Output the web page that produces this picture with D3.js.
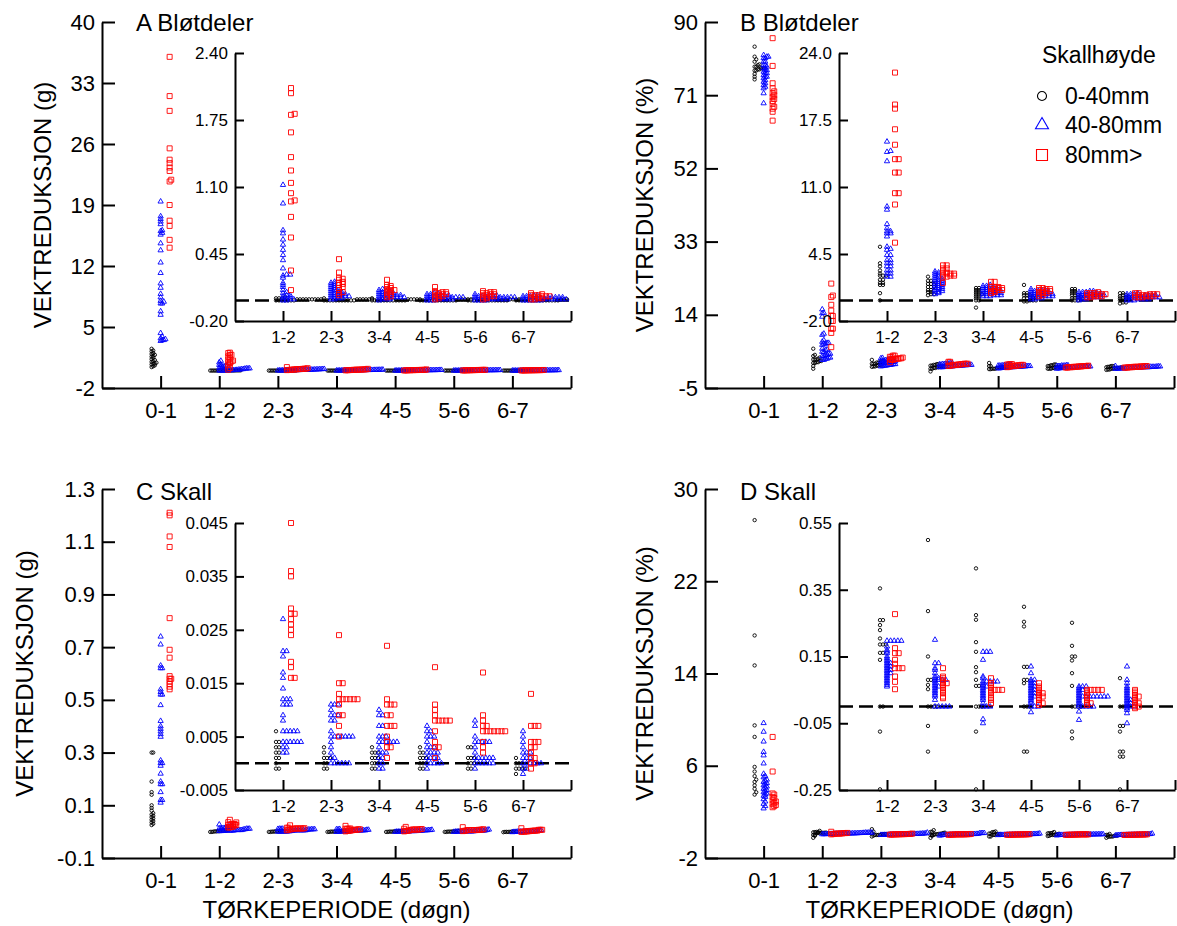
<!DOCTYPE html>
<html><head><meta charset="utf-8">
<script src="https://cdn.jsdelivr.net/npm/d3@7"></script>
<style>
body{margin:0;background:#fff}
svg{display:block}
text{font-family:Arial,"Liberation Sans",sans-serif;fill:#000}
</style>
</head><body>
<svg id="chart" width="1177" height="926"></svg>
<script>
// ---------- categories / labels ----------
const periods = ["0-1","1-2","2-3","3-4","4-5","5-6","6-7"];
const sizeClasses = ["0-40mm","40-80mm","80mm>"];
const legendTitle = "Skallhøyde";
const xAxisTitle = "TØRKEPERIODE (døgn)";

// ---------- tick labels ----------
const ticksA = [-2,5,12,19,26,33,40];
const insetTicksA = [-0.20,0.45,1.10,1.75,2.40];
const ticksB = [-5,14,33,52,71,90];
const insetTicksB = [-2.0,4.5,11.0,17.5,24.0];
const ticksC = [-0.1,0.1,0.3,0.5,0.7,0.9,1.1,1.3];
const insetTicksC = [-0.005,0.005,0.015,0.025,0.035,0.045];
const ticksD = [-2,6,14,22,30];
const insetTicksD = [-0.25,-0.05,0.15,0.35,0.55];

// ---------- A: soft tissue, weight loss (g); one sub-array per period ----------
const softG_0_40 = [
 [2.5,2.3,2.2,2.0,1.9,1.8,1.7,1.6,1.5,1.3,1.2,1.1,1.0,0.9,0.8,0.8,0.7,0.6,0.5,0.4],
 [0.03,0.02,0.02,0.02,0.01,0.01,0.01,0.01,0.01,0.01,0.01,0.01,0.01,0.0,0.0,0.0,0.0,0.0,0.0,0.0],
 [0.02,0.01,0.01,0.01,0.01,0.01,0.01,0.0,0.0,0.0,0.0,0.0,0.0,0.0,0.0,0.0,0.0,0.0],
 [0.02,0.01,0.01,0.01,0.01,0.01,0.0,0.0,0.0,0.0,0.0,0.0,0.0,0.0,0.0,0.0,0.0,0.0],
 [0.01,0.01,0.01,0.01,0.01,0.0,0.0,0.0,0.0,0.0,0.0,0.0,0.0,0.0,0.0,0.0,0.0,0.0],
 [0.01,0.01,0.01,0.01,0.0,0.0,0.0,0.0,0.0,0.0,0.0,0.0,0.0,0.0,0.0,0.0,0.0,0.0],
 [0.01,0.01,0.01,0.0,0.0,0.0,0.0,0.0,0.0,0.0,0.0,0.0,0.0,0.0,0.0,0.0,0.0,0.0]
];
const softG_40_80 = [
 [19.4,17.7,17.4,17.1,16.8,16.1,16.0,15.8,15.6,14.6,13.8,12.4,11.2,10.0,9.5,8.8,8.4,8.0,7.9,7.7,7.7,6.8,6.4,4.3,3.9,3.7,3.6,3.5,3.5,3.4],
 [1.12,0.94,0.68,0.65,0.59,0.54,0.49,0.44,0.39,0.31,0.25,0.25,0.24,0.22,0.17,0.15,0.13,0.10,0.08,0.07,0.05,0.05,0.04,0.03,0.02,0.02,0.01,0.01,0.0,0.0],
 [0.18,0.17,0.16,0.15,0.14,0.13,0.12,0.11,0.10,0.10,0.09,0.08,0.08,0.07,0.07,0.06,0.06,0.05,0.05,0.05,0.04,0.04,0.04,0.03,0.03,0.03,0.02,0.02,0.01,0.01],
 [0.11,0.10,0.09,0.09,0.08,0.08,0.07,0.07,0.06,0.06,0.06,0.05,0.05,0.05,0.04,0.04,0.04,0.04,0.03,0.03,0.03,0.03,0.02,0.02,0.02,0.02,0.01,0.01,0.01,0.0],
 [0.07,0.07,0.06,0.06,0.05,0.05,0.05,0.04,0.04,0.04,0.04,0.03,0.03,0.03,0.03,0.03,0.02,0.02,0.02,0.02,0.02,0.02,0.01,0.01,0.01,0.01,0.01,0.0,0.0,0.0],
 [0.06,0.05,0.05,0.05,0.04,0.04,0.04,0.04,0.03,0.03,0.03,0.03,0.03,0.02,0.02,0.02,0.02,0.02,0.02,0.02,0.01,0.01,0.01,0.01,0.01,0.01,0.0,0.0,0.0,0.0],
 [0.05,0.05,0.04,0.04,0.04,0.03,0.03,0.03,0.03,0.03,0.02,0.02,0.02,0.02,0.02,0.02,0.02,0.01,0.01,0.01,0.01,0.01,0.01,0.01,0.0,0.0,0.0,0.0,0.0,0.0]
];
const softG_80 = [
 [36.0,31.5,29.8,25.5,24.2,23.8,23.3,22.9,21.9,21.7,19.0,17.2,16.6,15.0,14.1],
 [2.06,2.01,1.81,1.80,1.63,1.39,1.26,1.14,1.04,0.97,0.96,0.81,0.61,0.29,0.10],
 [0.40,0.27,0.22,0.21,0.20,0.18,0.17,0.16,0.15,0.13,0.12,0.10,0.08,0.07,0.05],
 [0.20,0.15,0.14,0.13,0.12,0.11,0.10,0.10,0.09,0.08,0.07,0.06,0.05,0.04,0.03],
 [0.13,0.09,0.08,0.08,0.07,0.07,0.06,0.06,0.05,0.05,0.04,0.04,0.03,0.02,0.01],
 [0.09,0.08,0.08,0.07,0.07,0.06,0.06,0.05,0.05,0.04,0.04,0.03,0.03,0.02,0.01],
 [0.07,0.06,0.05,0.05,0.05,0.04,0.04,0.04,0.03,0.03,0.03,0.02,0.02,0.01,0.01]
];

// ---------- B: soft tissue, weight loss (%) ----------
const softPct_0_40 = [
 [83.6,81.0,80.3,79.7,79.0,78.8,78.4,78.4,78.0,78.0,78.0,77.7,77.7,77.4,77.4,76.5,75.8,75.1],
 [5.2,3.6,3.3,2.9,2.6,2.4,2.4,2.4,2.0,2.0,1.7,1.7,1.5,1.5,0.7,0.0],
 [2.3,1.9,1.9,1.6,1.6,1.6,1.3,1.3,1.3,1.0,1.0,0.8,0.8,0.6,0.6,0.5],
 [1.2,1.2,1.0,1.0,0.8,0.8,0.6,0.6,0.6,0.4,0.4,0.2,0.2,0.0,0.0,-0.7],
 [1.5,0.7,0.7,0.5,0.5,0.5,0.3,0.3,0.3,0.2,0.2,0.0,0.0,0.0,-0.1,-0.1],
 [1.1,1.1,0.9,0.9,0.7,0.7,0.5,0.5,0.5,0.3,0.3,0.2,0.2,0.0,0.0,0.0],
 [0.7,0.7,0.5,0.5,0.4,0.3,0.3,0.2,0.2,0.1,0.1,0.0,0.0,-0.2,-0.2,-0.3]
];
const softPct_40_80 = [
 [81.4,81.0,81.0,80.6,80.6,79.7,79.7,78.8,78.8,78.4,78.0,78.0,77.5,77.5,77.1,76.7,76.7,76.2,75.8,75.8,75.4,74.9,74.5,74.1,73.6,73.2,72.8,71.5,68.9],
 [15.4,14.5,14.4,13.5,9.1,8.8,7.4,7.0,6.7,6.7,6.5,6.5,6.2,5.2,5.0,4.9,4.4,4.4,3.9,3.9,3.6,3.6,3.3,3.3,2.9,2.9,2.6,2.6,2.3,2.3],
 [2.8,2.7,2.6,2.5,2.4,2.3,2.2,2.1,2.0,2.0,1.9,1.8,1.8,1.7,1.6,1.6,1.5,1.4,1.4,1.3,1.2,1.2,1.1,1.0,1.0,0.9,0.8,0.8,0.7,0.6],
 [1.5,1.4,1.4,1.3,1.3,1.2,1.2,1.1,1.1,1.0,1.0,1.0,0.9,0.9,0.9,0.8,0.8,0.8,0.7,0.7,0.7,0.6,0.6,0.6,0.5,0.5,0.5,0.4,0.4,0.4],
 [1.1,1.0,1.0,0.9,0.9,0.9,0.8,0.8,0.8,0.7,0.7,0.7,0.6,0.6,0.6,0.5,0.5,0.5,0.5,0.4,0.4,0.4,0.4,0.3,0.3,0.3,0.2,0.2,0.1,0.1],
 [0.9,0.9,0.8,0.8,0.8,0.7,0.7,0.7,0.6,0.6,0.6,0.6,0.5,0.5,0.5,0.5,0.4,0.4,0.4,0.4,0.3,0.3,0.3,0.3,0.2,0.2,0.2,0.1,0.1,0.0],
 [0.7,0.6,0.6,0.6,0.5,0.5,0.5,0.5,0.4,0.4,0.4,0.4,0.4,0.3,0.3,0.3,0.3,0.3,0.2,0.2,0.2,0.2,0.2,0.1,0.1,0.1,0.1,0.0,0.0,0.0]
];
const softPct_80 = [
 [85.8,78.6,74.1,72.8,72.0,71.5,71.0,70.5,70.0,69.5,68.8,68.0,67.5,66.7,64.4],
 [22.1,19.0,18.6,16.6,15.1,13.7,13.7,12.4,12.4,10.4,10.4,9.3,5.6],
 [3.4,3.4,3.1,3.1,2.9,2.7,2.7,2.6,2.6,2.6,2.5,2.4,2.4,2.3,2.3,1.7],
 [1.8,1.8,1.3,1.3,1.3,1.2,1.2,1.1,1.1,1.0,1.0,0.9,0.9,0.8,0.7],
 [1.2,1.2,1.1,1.1,1.0,1.0,0.9,0.9,0.8,0.8,0.7,0.7,0.6,0.5,0.4],
 [0.8,0.7,0.7,0.7,0.6,0.6,0.6,0.5,0.5,0.5,0.4,0.4,0.4,0.3,0.3],
 [0.7,0.7,0.6,0.6,0.6,0.5,0.5,0.5,0.5,0.4,0.4,0.4,0.3,0.3,0.3]
];

// ---------- C: shell, weight loss (g) ----------
const shellG_0_40 = [
 [0.30,0.30,0.19,0.15,0.14,0.10,0.09,0.08,0.07,0.065,0.06,0.055,0.05,0.045,0.04,0.035,0.03,0.025],
 [0.006,0.004,0.004,0.003,0.003,0.002,0.002,0.001,0.001,0.0,-0.001,-0.001],
 [0.003,0.002,0.001,0.001,0.001,0.0,0.0,-0.001,-0.001],
 [0.003,0.002,0.002,0.002,0.001,0.001,0.001,0.0,0.0,0.0,-0.001,-0.001],
 [0.003,0.002,0.002,0.001,0.001,0.001,0.0,0.0,0.0,-0.001,-0.001],
 [0.003,0.003,0.001,0.001,0.001,0.0,0.0,0.0,-0.001,-0.001],
 [0.001,0.0,0.0,0.0,-0.001,-0.001,-0.001,-0.001,-0.002]
];
const shellG_40_80 = [
 [0.74,0.71,0.63,0.62,0.62,0.54,0.53,0.52,0.52,0.48,0.42,0.40,0.39,0.38,0.37,0.36,0.27,0.26,0.26,0.25,0.22,0.19,0.18,0.18,0.15,0.12,0.12,0.11],
 [0.027,0.021,0.021,0.020,0.017,0.016,0.014,0.012,0.012,0.012,0.011,0.011,0.011,0.009,0.008,0.006,0.006,0.006,0.006,0.006,0.004,0.004,0.004,0.004,0.004,0.004,0.003,0.003,0.002,0.002],
 [0.011,0.011,0.011,0.010,0.009,0.009,0.009,0.008,0.008,0.006,0.005,0.005,0.005,0.005,0.005,0.005,0.005,0.004,0.003,0.002,0.001,0.001,0.0,0.0,0.0,0.0,0.0,0.0],
 [0.010,0.009,0.009,0.007,0.007,0.005,0.005,0.005,0.004,0.004,0.004,0.004,0.004,0.004,0.003,0.002,0.002,0.002,0.001,0.001,0.0,0.0,-0.001,-0.001],
 [0.007,0.006,0.006,0.005,0.005,0.005,0.004,0.003,0.003,0.003,0.002,0.002,0.002,0.002,0.001,0.001,0.001,0.001,0.0,0.0,0.0,0.0,0.0,-0.001],
 [0.008,0.007,0.005,0.004,0.004,0.004,0.004,0.004,0.003,0.002,0.001,0.001,0.001,0.001,0.001,0.001,0.0,0.0,0.0,0.0,0.0,0.0,-0.001],
 [0.006,0.005,0.004,0.003,0.002,0.002,0.002,0.001,0.001,0.001,0.0,0.0,0.0,0.0,0.0,0.0,-0.001,-0.001,-0.002]
];
const shellG_80 = [
 [1.21,1.20,1.12,1.08,0.81,0.69,0.66,0.59,0.58,0.58,0.57,0.56,0.55,0.54],
 [0.045,0.036,0.035,0.029,0.028,0.028,0.027,0.026,0.025,0.024,0.019,0.018,0.016,0.016],
 [0.024,0.015,0.015,0.013,0.012,0.012,0.012,0.012,0.012,0.012,0.011,0.009,0.009,0.007,0.005],
 [0.022,0.012,0.011,0.011,0.011,0.009,0.009,0.007,0.007,0.007,0.005,0.004,0.003,0.003,0.001],
 [0.018,0.011,0.010,0.009,0.008,0.008,0.008,0.008,0.008,0.006,0.004,0.003,0.003,0.001],
 [0.017,0.009,0.008,0.007,0.007,0.006,0.006,0.006,0.006,0.006,0.006,0.006,0.004,0.003,0.002],
 [0.013,0.007,0.007,0.007,0.004,0.004,0.004,0.003,0.003,0.002,0.001,0.001,0.0,0.0,-0.001]
];

// ---------- D: shell, weight loss (%) ----------
const shellPct_0_40 = [
 [27.3,17.3,14.7,9.5,8.5,5.9,5.5,5.1,4.8,4.6,4.3,4.0,3.7,3.5],
 [0.354,0.259,0.259,0.244,0.229,0.204,0.186,0.186,0.186,0.161,0.161,0.14,0.0,0.0,-0.075,-0.248],
 [0.499,0.286,0.15,0.08,0.08,0.065,0.052,0.0,0.0,0.0,0.0,-0.058,-0.135],
 [0.414,0.274,0.26,0.193,0.164,0.118,0.103,0.08,0.062,0.062,0.0,0.0,0.0,-0.075,-0.248],
 [0.299,0.254,0.24,0.119,0.119,0.08,0.08,0.07,0.0,0.0,0.0,-0.135,-0.135],
 [0.251,0.182,0.15,0.15,0.138,0.1,0.062,0.0,0.0,0.0,0.0,-0.075,-0.095],
 [0.085,0.0,0.0,-0.058,-0.058,-0.075,-0.135,-0.135,-0.15,-0.15,-0.248]
];
const shellPct_40_80 = [
 [9.7,8.95,8.1,7.2,6.9,6.2,5.3,5.1,5.0,4.8,4.7,4.6,4.5,4.4,4.3,4.2,4.1,4.0,3.9,3.8,3.7,3.6,3.5,3.4,3.3,3.1,2.9,2.7,2.5,2.3],
 [0.197,0.197,0.197,0.197,0.197,0.18,0.17,0.165,0.16,0.15,0.145,0.14,0.135,0.13,0.13,0.125,0.12,0.12,0.115,0.11,0.11,0.105,0.1,0.1,0.095,0.09,0.085,0.08,0.075,0.07,0.065,0.06],
 [0.2,0.13,0.13,0.115,0.11,0.1,0.09,0.085,0.085,0.08,0.08,0.08,0.08,0.075,0.07,0.065,0.06,0.06,0.055,0.05,0.045,0.04,0.035,0.03,0.02,0.0,0.0,0.0,0.0,0.0],
 [0.164,0.164,0.164,0.14,0.09,0.085,0.075,0.075,0.075,0.075,0.075,0.07,0.065,0.06,0.06,0.055,0.05,0.045,0.04,0.035,0.03,0.025,0.02,0.01,0.0,0.0,0.0,-0.038,-0.05],
 [0.12,0.1,0.08,0.08,0.075,0.07,0.07,0.065,0.06,0.06,0.055,0.05,0.05,0.045,0.04,0.04,0.035,0.03,0.03,0.025,0.02,0.015,0.01,0.0,0.0,0.0,-0.017],
 [0.06,0.06,0.06,0.055,0.05,0.05,0.045,0.04,0.035,0.03,0.03,0.03,0.03,0.03,0.03,0.03,0.03,0.03,0.025,0.02,0.015,0.01,0.005,0.0,0.0,0.0,0.0,0.0,-0.015,-0.04],
 [0.12,0.08,0.07,0.06,0.055,0.05,0.045,0.04,0.035,0.03,0.025,0.02,0.02,0.015,0.01,0.01,0.005,0.0,0.0,0.0,-0.005,-0.01,-0.02,-0.05]
];
const shellPct_80 = [
 [8.5,5.5,3.6,3.5,3.3,3.2,3.0,2.9,2.8,2.7,2.6,2.5,2.4],
 [0.277,0.175,0.16,0.16,0.14,0.128,0.115,0.115,0.115,0.09,0.074,0.052],
 [0.115,0.09,0.085,0.08,0.075,0.07,0.07,0.065,0.06,0.055,0.05,0.045,0.04,0.03,0.025],
 [0.085,0.07,0.065,0.06,0.055,0.05,0.05,0.05,0.05,0.045,0.04,0.03,0.025,0.02,0.01],
 [0.07,0.06,0.055,0.05,0.045,0.04,0.04,0.035,0.03,0.03,0.025,0.02,0.01,0.01,0.005],
 [0.05,0.05,0.05,0.05,0.05,0.045,0.04,0.035,0.03,0.025,0.02,0.015,0.01,0.01,0.005],
 [0.05,0.045,0.04,0.035,0.03,0.03,0.025,0.02,0.015,0.01,0.01,0.005,0.0,0.0,-0.005]
];

// ---------- styles ----------
const colors = ["#000000","#0000ff","#ff0000"];
const symbolTypes = [d3.symbolCircle, d3.symbolTriangle, d3.symbolSquare];
const symbolAreas = [9, 12, 25];
const legendAreas = [64, 73, 121];

const fmtInt = v => String(v);
const fmtFix = n => v => v.toFixed(n);

const panels = [
 {title:"A Bløtdeler", yLabel:"VEKTREDUKSJON (g)", data:[softG_0_40, softG_40_80, softG_80],
  titleX:136, titleY:31, yLabelX:51,
  main:{x0:102, x1:571, yTop:22, yBot:388, domain:[-2,40], ticks:ticksA, fmt:fmtInt},
  inset:{x0:235, x1:571, yTop:53, yBot:321, domain:[-0.2,2.4], ticks:insetTicksA, fmt:fmtFix(2)}},
 {title:"B Bløtdeler", yLabel:"VEKTREDUKSJON (%)", data:[softPct_0_40, softPct_40_80, softPct_80],
  titleX:740, titleY:31, yLabelX:653, legend:true,
  main:{x0:705, x1:1174, yTop:22, yBot:388, domain:[-5,90], ticks:ticksB, fmt:fmtInt},
  inset:{x0:839, x1:1175, yTop:53, yBot:321, domain:[-2,24], ticks:insetTicksB, fmt:fmtFix(1)}},
 {title:"C Skall", yLabel:"VEKTREDUKSJON (g)", data:[shellG_0_40, shellG_40_80, shellG_80],
  titleX:136, titleY:500, yLabelX:33, xTitle:true,
  main:{x0:102, x1:571, yTop:489, yBot:858, domain:[-0.1,1.3], ticks:ticksC, fmt:fmtFix(1)},
  inset:{x0:235, x1:571, yTop:523, yBot:790, domain:[-0.005,0.045], ticks:insetTicksC, fmt:fmtFix(3)}},
 {title:"D Skall", yLabel:"VEKTREDUKSJON (%)", data:[shellPct_0_40, shellPct_40_80, shellPct_80],
  titleX:740, titleY:500, yLabelX:653, xTitle:true,
  main:{x0:705, x1:1174, yTop:489, yBot:858, domain:[-2,30], ticks:ticksD, fmt:fmtInt},
  inset:{x0:839, x1:1175, yTop:523, yBot:790, domain:[-0.25,0.55], ticks:insetTicksD, fmt:fmtFix(2)}}
];

const svg = d3.select("#chart");

// dot-density layout: values in the same pixel row are stacked side by side
function dotLayout(values, y, baseX, step, binPx){
  const pts = values.map(v => ({v, y:y(v)})).sort((a,b) => b.y - a.y);
  let rowY = null, k = 0;
  pts.forEach(p => {
    if (rowY === null || Math.abs(p.y - rowY) > binPx){ rowY = p.y; k = 0; } else k++;
    p.x = baseX + k*step;
  });
  return pts;
}

function drawMarks(g, pts, gi){
  const sym = d3.symbol().type(symbolTypes[gi]).size(symbolAreas[gi]);
  g.selectAll(null).data(pts).join("path")
    .attr("d", sym)
    .attr("transform", d => `translate(${d.x},${d.y})`)
    .attr("fill","none").attr("stroke", colors[gi]).attr("stroke-width", 0.9);
}

function styleAxis(g, fontSize){
  g.select(".domain").attr("stroke","#000").attr("stroke-width",2);
  g.selectAll(".tick line").attr("stroke","#000").attr("stroke-width",2);
  g.selectAll(".tick text").attr("font-size",fontSize).attr("fill","#000")
    .attr("font-family","Arial, 'Liberation Sans', sans-serif");
}

panels.forEach(P => {
  const M = P.main, I = P.inset;
  const xm = d3.scaleLinear().domain([0,8]).range([M.x0, M.x1]);
  const ym = d3.scaleLinear().domain(M.domain).range([M.yBot, M.yTop]);
  const xi = d3.scaleLinear().domain([0,7]).range([I.x0, I.x1]);
  const yi = d3.scaleLinear().domain(I.domain).range([I.yBot, I.yTop]);

  // main axes
  const gy = svg.append("g").attr("transform",`translate(${M.x0},0)`)
    .call(d3.axisLeft(ym).tickValues(M.ticks).tickFormat(M.fmt).tickSize(-13).tickSizeOuter(0).tickPadding(7));
  styleAxis(gy, 22);
  const gx = svg.append("g").attr("transform",`translate(0,${M.yBot})`)
    .call(d3.axisBottom(xm).tickValues(d3.range(1,9)).tickFormat(i => periods[i-1] || "")
      .tickSize(-12).tickSizeOuter(0).tickPadding(14));
  styleAxis(gx, 22);

  // main marks
  const gm = svg.append("g");
  const mainOff = [-9, 0, 9];
  P.data.forEach((grp, gi) => {
    grp.forEach((vals, pi) => {
      const pts = dotLayout(vals, ym, xm(pi+1) + mainOff[gi], 1.6, 2.5);
      drawMarks(gm, pts, gi);
    });
  });

  // inset axes
  const giy = svg.append("g").attr("transform",`translate(${I.x0},0)`)
    .call(d3.axisLeft(yi).tickValues(I.ticks).tickFormat(I.fmt).tickSize(-9).tickSizeOuter(0).tickPadding(7));
  styleAxis(giy, 17);
  const gix = svg.append("g").attr("transform",`translate(0,${I.yBot})`)
    .call(d3.axisBottom(xi).tickValues(d3.range(1,8)).tickFormat(i => periods[i] && i < 7 ? periods[i] : "")
      .tickSize(-10).tickSizeOuter(0).tickPadding(10));
  styleAxis(gix, 17);

  // dashed zero line
  svg.append("line").attr("x1", I.x0).attr("x2", I.x1).attr("y1", yi(0)).attr("y2", yi(0))
    .attr("stroke","#000").attr("stroke-width",2.5).attr("stroke-dasharray","14,6");

  // inset marks (periods 1-2 .. 6-7)
  const gi2 = svg.append("g");
  const insetOff = [-7, 0, 8];
  const insetStep = [3, 3.6, 3.7];
  P.data.forEach((grp, gi) => {
    grp.slice(1).forEach((vals, k) => {
      const pts = dotLayout(vals, yi, xi(k+1) + insetOff[gi], insetStep[gi], 1.2);
      drawMarks(gi2, pts, gi);
    });
  });

  // titles
  svg.append("text").attr("x", P.titleX).attr("y", P.titleY).attr("font-size",24).text(P.title);
  svg.append("text").attr("font-size",24).attr("text-anchor","middle")
    .attr("transform",`translate(${P.yLabelX},${(M.yTop+M.yBot)/2}) rotate(-90)`).text(P.yLabel);
  if (P.xTitle){
    svg.append("text").attr("font-size",24).attr("text-anchor","middle")
      .attr("x",(M.x0+M.x1)/2).attr("y",918).text(xAxisTitle);
  }

  // legend
  if (P.legend){
    const lg = svg.append("g");
    lg.append("text").attr("x",1042).attr("y",63).attr("font-size",23).text(legendTitle);
    const ys = [96, 125, 155];
    sizeClasses.forEach((s, i) => {
      lg.append("path").attr("d", d3.symbol().type(symbolTypes[i]).size(legendAreas[i])())
        .attr("transform",`translate(1042,${ys[i]})`)
        .attr("fill","none").attr("stroke",colors[i]).attr("stroke-width",1.1);
      lg.append("text").attr("x",1065).attr("y",ys[i]+8).attr("font-size",23).text(s);
    });
  }
});
</script>
</body></html>
